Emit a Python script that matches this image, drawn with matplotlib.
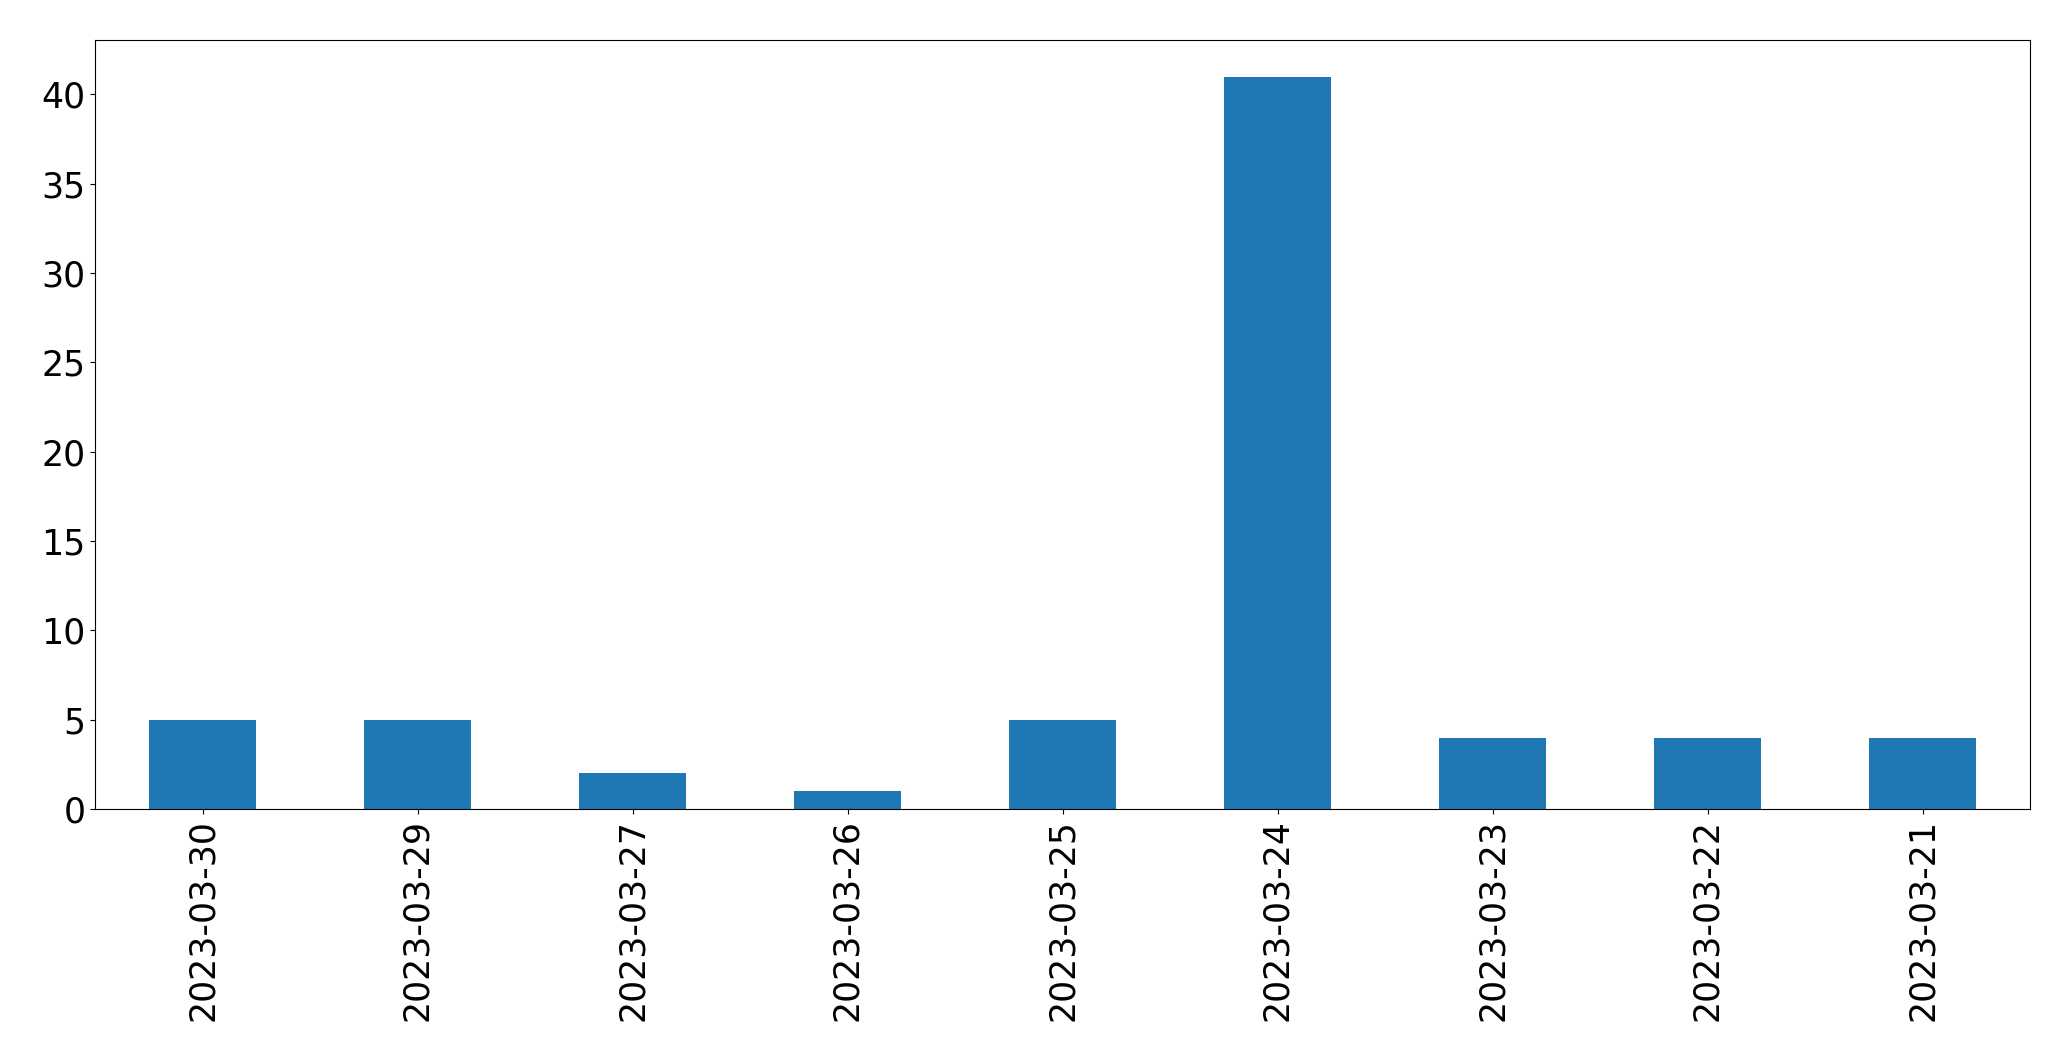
import matplotlib
matplotlib.use("Agg")
import matplotlib.pyplot as plt
import numpy as np

dates = ["2023-03-30", "2023-03-29", "2023-03-27", "2023-03-26", "2023-03-25",
         "2023-03-24", "2023-03-23", "2023-03-22", "2023-03-21"]
counts = [5, 5, 2, 1, 5, 41, 4, 4, 4]

fig = plt.figure(figsize=(20.71, 10.61), dpi=100)
ax = fig.add_axes([95/2071, 1 - 809/1061, (2030-95)/2071, (809-40)/1061])
x = np.arange(len(dates))
ax.bar(x, counts, width=0.5, color="#1f77b4")
ax.set_xlim(-0.5, len(dates) - 0.5)
ax.set_xticks(x)
ax.set_xticklabels(dates, rotation=90)
ax.set_yticks(range(0, 41, 5))
ax.tick_params(labelsize=25)
fig.savefig("out.png", dpi=100)
